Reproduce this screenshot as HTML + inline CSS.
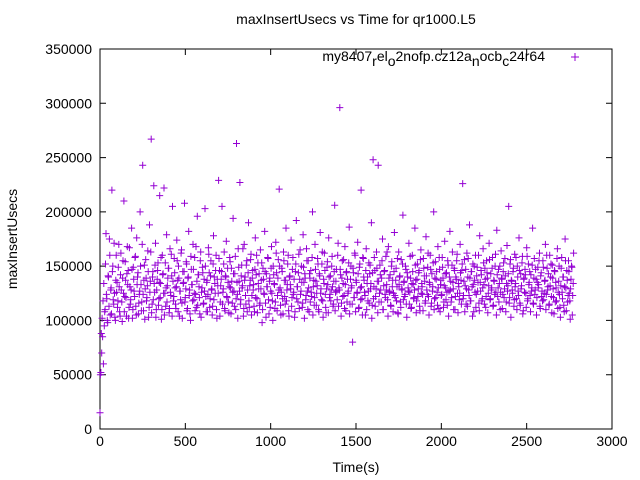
<!DOCTYPE html>
<html><head><meta charset="utf-8"><style>
html,body{margin:0;padding:0;background:#fff;width:640px;height:480px;overflow:hidden}
svg text{font-family:"Liberation Sans",sans-serif;font-size:14px;fill:#000}
</style></head><body>
<svg id="chart" width="640" height="480" xmlns="http://www.w3.org/2000/svg">
<text x="356" y="24" text-anchor="middle">maxInsertUsecs vs Time for qr1000.L5</text>
<text transform="translate(17,239) rotate(-90)" text-anchor="middle">maxInsertUsecs</text>
<text x="356" y="472" text-anchor="middle">Time(s)</text>
<g id="grid"></g>
<g id="pts"></g>
<g>
<text x="545" y="61" text-anchor="end">my8407<tspan dy="5">r</tspan><tspan dy="-5">el</tspan><tspan dy="5">o</tspan><tspan dy="-5">2nofp.cz12a</tspan><tspan dy="5">n</tspan><tspan dy="-5">ocb</tspan><tspan dy="5">c</tspan><tspan dy="-5">24r64</tspan></text>
<path d="M571 57h8M575 53v8" stroke="#9400d3" stroke-width="1"/>
</g>
</svg>
<script>
const xTicks=[0,500,1000,1500,2000,2500,3000];
const yTicks=[0,50000,100000,150000,200000,250000,300000,350000];
const tStart=0, tStep=5;
const tStart2=2.5, tStep2=5;
const valuesK=[
15,52,70,85,60,95,110,180,120,98,140,175,105,130,220,150,115,125,100,160,
135,118,170,108,142,128,99,155,210,122,137,104,168,146,112,131,119,185,102,149,
127,158,113,176,140,106,124,200,133,117,243,109,151,129,139,121,164,103,188,136,
267,115,145,224,126,171,110,138,153,120,215,134,101,160,143,222,125,113,179,132,
148,107,166,123,141,205,118,157,130,111,174,137,150,104,127,162,116,145,135,208,
121,154,109,139,182,128,100,147,133,170,119,158,124,112,196,142,131,106,163,126,
149,115,138,203,122,135,108,167,144,120,155,129,113,178,140,125,160,102,132,229,
146,117,138,205,126,152,111,141,173,121,135,107,158,130,148,116,194,127,143,110,
263,124,166,136,227,119,151,132,104,170,140,115,155,128,190,112,137,161,123,146,
133,108,176,142,120,153,129,114,165,137,98,148,125,182,116,143,131,157,106,139,
127,168,118,150,134,111,172,144,123,156,221,130,105,148,120,163,137,115,185,128,
152,109,140,133,174,121,158,126,103,145,192,131,117,161,138,124,150,112,179,135,
143,119,166,127,155,108,139,146,122,200,131,114,170,136,125,157,110,143,181,129,
152,118,138,162,124,107,149,133,176,121,141,128,159,113,136,206,126,147,119,171,
130,296,142,116,155,134,123,168,109,145,138,127,186,115,150,132,80,144,121,160,
137,125,172,111,149,130,220,120,158,140,126,105,166,134,118,153,143,129,190,114,
248,131,146,122,163,136,243,117,151,128,139,175,110,145,124,159,133,119,168,127,
142,113,154,137,125,181,121,148,131,107,163,140,117,156,128,197,135,122,150,115,
144,130,171,126,139,112,160,133,121,185,137,118,152,129,146,109,165,134,124,157,
141,116,177,128,149,122,135,160,113,143,131,200,120,154,138,126,168,111,147,133,
123,158,139,117,173,130,144,114,151,127,182,136,121,163,129,148,110,140,155,125,
134,119,170,137,146,226,123,156,132,115,162,140,128,188,118,145,131,152,108,137,
160,124,149,135,116,178,127,142,120,166,133,148,112,155,139,125,171,119,143,130,
158,114,136,150,126,183,122,147,134,110,164,138,124,153,129,141,117,169,132,205,
121,156,137,128,145,113,161,134,120,150,127,176,116,143,132,159,109,139,147,125,
167,118,152,135,123,142,130,185,115,157,128,138,121,149,133,162,111,144,127,155,
119,136,170,124,148,131,114,160,140,122,151,129,106,145,135,118,166,126,150,112,
132,158,120,140,108,175,130,146,117,155,125,101,138,149,123,162,113,134,95,110];
const valuesK2=[
50,88,102,118,134,108,152,124,100,141,113,160,128,106,145,119,171,103,137,126,
112,149,131,104,162,117,139,125,108,154,121,143,133,102,167,115,128,147,110,138,
122,159,105,133,144,116,127,150,109,170,124,137,101,156,118,132,145,112,126,163,
107,140,119,134,151,103,128,146,114,135,121,158,110,142,125,105,153,130,117,139,
148,111,126,161,104,136,122,144,115,131,155,108,139,127,119,165,102,134,145,117,
129,152,111,140,123,106,159,133,118,147,125,109,168,136,114,142,121,155,103,130,
144,116,127,150,108,137,124,161,112,141,128,105,152,119,134,146,110,138,125,157,
104,132,145,115,129,163,109,140,122,148,117,131,154,106,136,126,143,113,159,120,
135,102,149,127,115,141,130,166,111,137,123,151,108,144,118,132,156,105,139,128,
113,147,121,160,107,134,143,116,129,153,110,138,124,145,103,131,158,119,136,112,
148,125,100,142,133,117,162,109,139,128,150,114,126,145,106,155,122,137,118,133,
160,104,141,129,113,147,124,138,108,152,120,131,144,111,165,127,135,116,149,102,
139,123,155,110,130,143,117,126,158,105,137,121,147,114,132,152,108,141,125,119,
163,103,134,146,112,129,154,107,140,124,118,150,131,115,145,109,136,127,160,113,
128,147,104,139,122,156,111,133,144,117,125,153,106,138,130,115,148,121,162,108,
135,126,143,112,152,119,131,105,157,137,123,146,110,140,127,116,151,134,102,144,
120,158,113,129,148,107,136,125,142,117,155,110,132,146,121,128,163,104,139,126,
114,150,131,108,145,123,137,118,157,106,133,141,112,129,152,119,136,124,147,103,
140,127,115,159,111,134,145,120,128,151,107,138,122,144,113,156,125,131,109,148,
136,118,141,124,162,105,133,147,116,127,153,110,139,121,145,114,130,158,108,137,
124,149,112,132,143,119,126,155,104,140,128,117,151,135,110,146,122,138,161,107,
131,125,144,115,152,120,136,108,147,129,113,157,123,139,118,145,104,133,150,126,
112,141,127,160,109,135,146,118,130,153,115,138,122,144,107,132,156,120,128,148,
113,137,124,161,105,142,130,117,150,126,139,111,145,121,157,108,134,127,143,116,
152,103,136,125,148,119,131,158,110,140,123,146,114,129,153,106,138,126,142,112,
159,120,133,145,108,127,151,116,139,124,147,105,135,130,155,113,141,122,118,149,
125,137,110,160,128,143,115,132,152,107,139,121,146,117,130,157,111,136,124,103,
148,126,140,114,131,155,109,137,123,145,118,129,150,105,134,142,116,127,120,106];
const X=v=>100+v/3000*512, Y=v=>429-v/350000*380;
const g=document.getElementById('grid'), p=document.getElementById('pts');
const NS='http://www.w3.org/2000/svg';
function mk(tag,attrs,parent){const e=document.createElementNS(NS,tag);for(const k in attrs)e.setAttribute(k,attrs[k]);parent.appendChild(e);return e;}
const box=mk('rect',{x:100,y:49,width:512,height:380,fill:'none',stroke:'#000','stroke-width':1},g);


xTicks.forEach(t=>{
  const x=X(t);
  const tk=mk('path',{d:`M${x} 429v-6M${x} 49v6`,stroke:'#000'},g);
  
  
  const lb=mk('text',{x:x,y:446,'text-anchor':'middle'},g);lb.textContent=t;
  
  
});
yTicks.forEach(t=>{
  const y=Y(t);
  const tk=mk('path',{d:`M100 ${y}h6M612 ${y}h-6`,stroke:'#000'},g);
  
  
  const lb=mk('text',{x:92,y:y+5,'text-anchor':'end'},g);lb.textContent=t;
  
  
});
let d='';
function addPts(arr,t0,dt){
  arr.forEach((v,i)=>{
    const t=t0+i*dt; if(t>2775) return;
    const x=X(t), y=Y(v*1000);
    d+=`M${(x-3.5).toFixed(1)} ${y.toFixed(1)}h7M${x.toFixed(1)} ${(y-3.5).toFixed(1)}v7`;
  });
}
addPts(valuesK,tStart,tStep);
addPts(valuesK2,tStart2,tStep2);
const path=mk('path',{d:d,stroke:'#9400d3','stroke-width':1,fill:'none'},p);


</script>
</body></html>
